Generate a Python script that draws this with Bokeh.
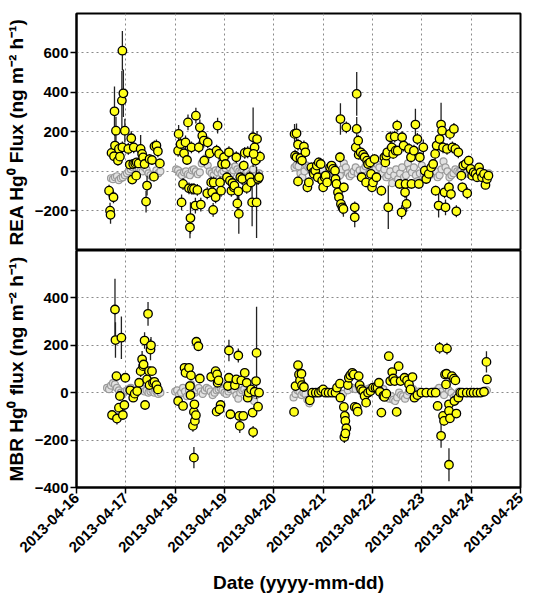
import math
import numpy as np
from bokeh.plotting import figure
from bokeh.layouts import column
from bokeh.models import FixedTicker, Range1d, ColumnDataSource
from bokeh.embed import file_html
from bokeh.resources import INLINE

# ---------------- data (days since 2013-04-16 00:00) ----------------
date_ticks = [0, 1, 2, 3, 4, 5, 6, 7, 8, 9]
date_labels = ["2013-04-16", "2013-04-17", "2013-04-18", "2013-04-19", "2013-04-20",
               "2013-04-21", "2013-04-22", "2013-04-23", "2013-04-24", "2013-04-25"]

rea_ticks = [-200, 0, 200, 400, 600]
mbr_ticks = [-400, -200, 0, 200, 400]

# REA flux (yellow)
rea_day = [0.66, 0.68, 0.69, 0.75, 0.71, 0.77, 0.78, 0.80, 0.76, 0.84, 0.86, 0.88, 0.93, 0.92, 0.95, 0.98, 0.93, 1.05, 1.08, 1.11,
           1.15, 1.19, 1.22, 1.26, 1.13, 1.21, 1.16, 1.30, 1.33, 1.35, 1.38, 1.41, 1.43, 1.48, 1.53, 1.57, 1.58, 1.62, 1.65, 1.69,
           2.07, 2.06, 2.11, 2.13, 2.16, 2.18, 2.21, 2.24, 2.26, 2.28, 2.30, 2.31, 2.33, 2.34, 2.38, 2.41, 2.45, 2.42, 2.48, 2.52,
           2.50, 2.55, 2.58, 2.59, 2.65, 2.66, 2.70, 2.73, 2.75, 2.77, 2.78, 2.82, 2.84, 2.86, 2.89, 2.91, 2.93, 2.95, 2.99, 3.02,
           3.05, 3.09, 3.11, 3.14, 3.16, 3.19, 3.20, 3.24, 3.26, 3.29, 3.28, 3.32, 3.36, 3.39, 3.41, 3.45, 3.47, 3.51, 3.54, 3.56,
           3.58, 3.61, 3.63, 3.65, 3.66, 3.68, 3.70, 3.72, 3.59,
           4.42, 4.46, 4.43, 4.46, 4.49, 4.49, 4.54, 4.57, 4.61, 4.64, 4.68, 4.71, 4.76, 4.80, 4.81, 4.84, 4.87, 4.89, 4.91, 4.95,
           4.98, 5.00, 5.03, 5.05, 5.08, 5.14, 5.17, 5.20, 5.24, 5.25, 5.27, 5.30, 5.32, 5.34, 5.35, 5.36, 5.39, 5.41, 5.42, 5.47,
           5.64, 5.64, 5.68, 5.68, 5.66, 5.71, 5.72, 5.76, 5.78, 5.81, 5.84, 5.87, 5.89, 5.91, 5.95, 5.97, 5.99, 6.01, 6.04, 6.08,
           6.18,
           6.24, 6.26, 6.28, 6.30, 6.32, 6.36, 6.39, 6.42, 6.45, 6.47, 6.50, 6.51, 6.55, 6.59, 6.60, 6.63, 6.66, 6.69, 6.67, 6.74,
           6.78, 6.79, 6.84, 6.87, 6.91, 6.94, 6.96, 7.03, 7.06, 7.09, 7.14, 7.19, 7.23, 7.27, 7.28, 7.30, 7.34, 7.36, 7.39, 7.41,
           7.43, 7.46, 7.48, 7.51, 7.55, 7.57, 7.59, 7.62, 7.65, 7.68, 7.70, 7.74, 7.80, 7.82, 7.84, 7.89, 7.92, 7.95, 7.99, 8.02,
           8.05, 8.09, 8.12, 8.16, 8.19, 8.22, 8.26, 8.29, 8.32, 8.35]
rea_flux = [-98, -199, -220, -131, 93, 303, 130, 205, 76, 54, 113, 74, 609, 357, 394, 205, 121, 113, 34, 167,
            37, 40, 45, 40, -42, -22, 121, 113, 88, 70, 37, -153, -72, 62, 57, -27, 126, 130, 101, 40,
            189, 104, 138, -157, -64, 91, 146, 57, 247, -86, -283, -236, 121, -89, -89, -173, -94, 281, 121, -168,
            222, 180, 155, 54, -111, 146, 91, -56, -106, -195, -56, -131, 104, 231, 88, -56, -98, 37, 71, 37,
            -30, 96, -47, -98, -59, -81, -72, 71, -162, -215, -101, -30, -39, 29, 93, -84, 96, -30, -56, -157,
            172, 121, 54, -157, 163, -39, -30, 74, 88,
            189, 192, 79, 71, 135, -51, 67, 54, 125, 96, -81, -56, 20, -5, -13, 3, 29, -30, 45, 37,
            -47, -81, -30, -22, -56, 20, 29, 12, 3, -39, -64, -106, -131, 71, 264, -165, -182, -190, -81, 222,
            -182, -232, 391, 214, 121, 155, 84, 96, -30, 84, 71, -56, 54, 37, 45, -13, -81, -56, 62, -30,
            -98,
            71, 45, 79, 96, -182, 172, 121, 88, 175, 104, 231, 104, -64, -207, 172, 130, -106, -165, -64, 113,
            71, -64, 104, 236, 163, -64, 71, 121, 3, -39, -13, 20, 37, 88, -98, 130, -173, 163, 236, 205,
            121, -106, -182, 113, -81, 189, -115, 121, 214, 113, -202, 96, -22, -81, 29, 37, -111, 54, 12, -22,
            -5, -13, -30, 20, -5, -30, -13, -69, -39, -22]
rea_err = [30, 40, 45, 30, 25, 125, 60, 70, 25, 25, 30, 25, 100, 150, 120, 60, 30, 30, 20, 35,
           20, 20, 20, 20, 20, 20, 30, 70, 40, 25, 20, 55, 50, 25, 25, 25, 30, 30, 30, 25,
           45, 30, 30, 40, 30, 30, 35, 25, 40, 30, 55, 80, 30, 30, 30, 40, 30, 40, 30, 35,
           40, 35, 35, 25, 30, 30, 25, 30, 30, 35, 30, 30, 30, 40, 30, 30, 30, 25, 25, 25,
           25, 30, 30, 30, 30, 30, 30, 30, 50, 100, 40, 25, 30, 25, 30, 30, 30, 30, 30, 120,
           150, 30, 25, 180, 40, 30, 30, 30, 30,
           50, 50, 30, 30, 30, 25, 25, 25, 30, 30, 25, 25, 25, 25, 25, 25, 25, 25, 25, 25,
           25, 25, 25, 25, 25, 20, 20, 20, 20, 25, 25, 25, 30, 25, 80, 35, 35, 40, 25, 30,
           30, 50, 110, 60, 30, 30, 25, 25, 25, 25, 25, 25, 25, 25, 25, 25, 25, 25, 25, 25,
           25,
           25, 25, 25, 30, 110, 30, 30, 25, 30, 30, 30, 25, 25, 35, 30, 30, 30, 40, 25, 30,
           25, 25, 30, 80, 30, 25, 25, 40, 25, 25, 25, 25, 25, 30, 25, 30, 60, 30, 110, 40,
           30, 30, 40, 30, 30, 30, 30, 30, 30, 30, 30, 30, 25, 25, 25, 25, 30, 25, 20, 20,
           20, 20, 20, 20, 20, 20, 20, 20, 25, 20]

# REA modelled/reference flux (grey)
rea_grey_day = [0.70, 0.74, 0.78, 0.82, 0.86, 0.90, 0.94, 0.98, 1.02, 1.06, 1.10, 1.14, 1.18, 1.22, 1.26, 1.30, 1.34,
                1.38, 1.42, 1.46, 1.50, 1.54, 1.58, 1.62, 1.66, 1.70,
                2.02, 2.06, 2.10, 2.14, 2.18, 2.22, 2.26, 2.30, 2.34, 2.38, 2.42, 2.46, 2.50, 2.54, 2.58, 2.62,
                2.66, 2.70, 2.74, 2.78, 2.82, 2.86, 2.90, 2.94, 2.98, 3.02, 3.06, 3.10, 3.14, 3.18, 3.22, 3.26,
                3.30, 3.34, 3.38, 3.42, 3.46, 3.50, 3.54, 3.58, 3.62, 3.66, 3.70,
                4.42, 4.46, 4.50, 4.54, 4.58, 4.62, 4.66, 4.70, 4.74, 4.78, 4.82, 4.86, 4.90, 4.94, 4.98, 5.02,
                5.06, 5.10, 5.14, 5.18, 5.22, 5.26, 5.30, 5.34, 5.38, 5.42, 5.46, 5.50, 5.54, 5.58, 5.62, 5.66,
                5.70, 5.74, 5.78, 5.82, 5.86, 5.90, 5.94, 5.98, 6.02, 6.06, 6.10, 6.14,
                6.20, 6.24, 6.28, 6.32, 6.36, 6.40, 6.44, 6.48, 6.52, 6.56, 6.60, 6.64, 6.68, 6.72, 6.76, 6.80,
                6.84, 6.88, 6.92, 6.96, 7.00, 7.04, 7.08, 7.12, 7.16, 7.20, 7.24, 7.28, 7.32, 7.36, 7.40, 7.44,
                7.48, 7.52, 7.56, 7.60, 7.64, 7.68, 7.72, 7.76, 7.80, 7.84, 7.88, 7.92, 7.96, 8.00, 8.04, 8.08,
                8.12, 8.16, 8.20, 8.24, 8.28, 8.32, 8.36]
rea_grey_flux = [-35, -40, -30, -25, -45, -35, -30, -20, -10, 0, 10, 20, 25, 15, 10, 5, 0,
                 20, 10, -10, -20, -30, -15, 5, -10, 0,
                 10, 5, -10, -20, -5, 0, -15, -20, 5, 10, 0, -15, -5, 40, 55, 65,
                 30, 0, -10, -20, 5, -5, 10, -10, 0, 15, 30, 20, -10, 5, 25, 10,
                 0, -5, 10, -15, 0, -20, -10, 10, -25, -40, -10,
                 20, 30, 25, -10, -30, 0, 30, 20, 10, 0, -20, -10, 5, -5, 10, -20,
                 -25, -15, 0, 5, 20, -5, -30, -20, 10, 40, 20, -10, -25, -15, 0, 20,
                 -10, 5, -20, 10, 25, 40, 30, 0, -15, 10, 35, 20,
                 -10, 10, -30, -20, 0, -60, -20, 10, -40, -10, 20, -30, -20, 40, 10, -5,
                 20, -20, -50, -10, 30, -15, -25, 0, -20, 10, -10, 0, -30, -20, 10, 50,
                 20, 0, -30, -20, -10, 10, 0, -5, 5, -10, 0, -5, -15, -10, -5, 0,
                 -10, -5, -15, -10, -20, -15, -10]

# MBR flux (yellow)
mbr_day = [0.72, 0.78, 0.79, 0.81, 0.82, 0.86, 0.88, 0.91, 0.94, 0.97, 0.99, 1.09, 1.15, 1.18, 1.23, 1.27, 1.30, 1.33,
           1.35, 1.36, 1.38, 1.39, 1.43, 1.45, 1.47, 1.48, 1.50, 1.51, 1.53, 1.55, 1.58, 1.62, 1.65,
           2.06, 2.16, 2.19, 2.21, 2.28, 2.30, 2.31, 2.32, 2.36, 2.38, 2.39, 2.40, 2.42, 2.38, 2.43, 2.47,
           2.50, 2.73, 2.82, 2.85, 2.86, 2.88, 2.84, 2.92, 2.90, 3.07, 3.09, 3.09, 3.12, 3.21, 3.24, 3.28,
           3.30, 3.31, 3.34, 3.38, 3.41, 3.45, 3.47, 3.49, 3.54, 3.57, 3.58, 3.61, 3.64, 3.65, 3.68, 3.70,
           4.41, 4.44, 4.49, 4.51, 4.53, 4.56, 4.57, 4.61, 4.73, 4.78, 4.85, 4.91, 4.96, 5.00, 5.05, 5.11,
           5.18, 5.25, 5.28, 5.34, 5.35, 5.42, 5.44, 5.45, 5.47, 5.43, 5.45, 5.50, 5.52, 5.55, 5.59, 5.62,
           5.64, 5.68, 5.70, 5.72, 5.74, 5.77, 5.81, 5.84, 5.87, 5.91, 5.96, 6.01, 6.06, 6.10, 6.13, 6.15,
           6.18, 6.22, 6.24, 6.28, 6.33, 6.36, 6.40, 6.42, 6.45, 6.49, 6.53, 6.57, 6.65, 6.70, 6.74, 6.77,
           6.81, 6.85, 6.91, 6.99, 7.09, 7.20, 7.28, 7.32, 7.36, 7.39, 7.43, 7.45, 7.47, 7.49, 7.50, 7.51,
           7.55, 7.55, 7.55, 7.57, 7.61, 7.65, 7.68, 7.70, 7.66, 7.74, 7.78, 7.82, 7.91, 7.99, 8.05, 8.12,
           8.19, 8.26, 8.31, 8.32]
mbr_flux = [-94, 351, 222, 70, -109, -63, -14, 232, -94, -52, 63, 10, -21, -4, 7, 42, 91, 141,
            112, 119, 220, -52, 56, 333, 91, 32, 182, 200, 91, 42, 46, 32, 14,
            -35, -56, 105, 84, 105, 28, -10, 73, -140, -81, -49, -119, -95, -274, 215, 196,
            60, 67, 91, 77, 42, 52, -80, -52, -70, 28, 63, 178, -91, 31, 56, 157,
            -98, -140, 52, -98, 84, 42, -21, 0, 14, -84, -166, 4, 49, 168, -59, 0,
            -81, 28, 116, 77, 52, 80, 32, 24, -32, 0, 0, 0, 7, 14, 0, 0,
            0, 0, 21, 38, -21, -60, -98, -119, -150, -187, -172, 32, 63, 74, 84, 77,
            -60, -63, -80, 70, 32, 14, 7, -14, -42, 0, 7, 21, 21, 21, 42, 4,
            -84, -14, -18, -4, 154, 49, 87, 60, 49, -81, 112, 49, 63, 52, 35, 14,
            66, -21, -10, 0, 0, 0, 0, -56, 189, -182, -98, -119, 77, 35, 80, 186,
            -49, -304, -77, -108, 70, 59, 52, -88, -35, -21, 0, 0, 0, 0, 0, 0,
            0, 4, 130, 56]
mbr_err = [15, 130, 75, 15, 25, 15, 15, 90, 15, 15, 15, 15, 10, 10, 10, 15, 25, 35,
           25, 25, 35, 15, 20, 50, 15, 15, 45, 35, 15, 15, 15, 15, 10,
           15, 15, 20, 15, 20, 15, 15, 20, 25, 20, 15, 20, 20, 45, 15, 15,
           15, 15, 15, 15, 15, 15, 15, 15, 15, 15, 15, 45, 15, 15, 15, 30,
           15, 30, 15, 15, 15, 15, 15, 10, 10, 15, 25, 10, 15, 195, 15, 10,
           15, 15, 15, 15, 15, 15, 15, 10, 15, 5, 5, 5, 5, 5, 5, 5,
           5, 5, 10, 10, 10, 15, 15, 15, 20, 25, 20, 10, 15, 15, 15, 15,
           15, 15, 15, 15, 10, 10, 10, 10, 15, 5, 5, 10, 10, 10, 15, 10,
           15, 10, 10, 10, 15, 10, 15, 10, 10, 15, 15, 10, 10, 10, 10, 10,
           10, 10, 10, 5, 5, 5, 5, 15, 25, 50, 20, 20, 15, 15, 15, 25,
           15, 70, 15, 20, 15, 15, 15, 15, 15, 10, 5, 5, 5, 5, 5, 5,
           5, 5, 45, 15]

# MBR reference flux (grey)
mbr_grey_day = [0.62, 0.66, 0.70, 0.74, 0.78, 0.82, 0.86, 0.90, 0.94, 0.98, 1.02, 1.06, 1.10, 1.14, 1.18, 1.22, 1.26,
                1.30, 1.34, 1.38, 1.42, 1.46, 1.50, 1.54, 1.58, 1.62, 1.66, 1.70,
                2.00, 2.04, 2.08, 2.12, 2.16, 2.20, 2.24, 2.28, 2.32, 2.36, 2.40, 2.44, 2.48, 2.52, 2.56, 2.60,
                2.64, 2.68, 2.72, 2.76, 2.80, 2.84, 2.88, 2.92, 2.96, 3.00, 3.04, 3.08, 3.12, 3.16, 3.20, 3.24,
                3.28, 3.32, 3.36, 3.40, 3.44, 3.48, 3.52, 3.56, 3.60, 3.64, 3.68,
                4.40, 4.44, 4.48, 4.52, 4.56, 4.60, 4.64, 4.68, 4.72, 4.76, 4.80, 4.90, 5.00, 5.10, 5.20, 5.30,
                5.40, 5.50, 5.60, 5.66, 5.72, 5.78, 5.84, 5.90, 5.96, 6.02, 6.08, 6.14,
                6.18, 6.22, 6.26, 6.30, 6.34, 6.38, 6.42, 6.46, 6.50, 6.54, 6.58, 6.62, 6.66, 6.70, 6.74, 6.78,
                6.82, 6.86, 6.90, 6.94, 6.98, 7.05, 7.15, 7.25, 7.30, 7.35, 7.40, 7.45, 7.50, 7.55, 7.60, 7.65,
                7.70, 7.75, 7.85, 7.95, 8.05, 8.15, 8.25, 8.32]
mbr_grey_flux = [20, 15, 30, 40, 35, 20, 10, 0, -5, 5, 10, 15, 20, 0, 5, 10, 15,
                 20, 15, 5, 10, 0, 5, 10, 0, 5, -5, 0,
                 5, 10, -10, 0, 20, 5, -15, 10, 35, 15, 0, 10, 20, 5, -5, 10,
                 20, 15, 5, -10, 0, 10, 15, 20, 10, 0, -5, 5, 15, 20, 10, -10,
                 -25, 0, 10, 15, 0, -10, 5, -20, -35, -10, 0,
                 -20, -5, 10, 5, -10, 0, -5, -30, -45, -10, 0, 0, 0, 0, 0, -10,
                 -5, 10, 20, 15, 25, 5, 10, 15, 20, 25, 30, 20,
                 10, 15, -10, -20, -25, -15, -30, -35, -20, 0, -10, -15, -25, -10, 5, 10,
                 15, 5, 0, 5, 0, 0, 0, 5, 10, 20, 5, -10, 20, 10, 0, -20,
                 -10, 5, 0, 0, 0, 0, 5, 10]

# ---------------- styling helpers ----------------
FONT = "Liberation Sans"
YELLOW = "#ffff1a"
GRID = "#8a8a8a"


def make_panel(height, border_bottom, border_top, y_lo, y_hi, yticks, ylabel):
    p = figure(width=539, height=height, x_range=Range1d(0, 9), y_range=Range1d(y_lo, y_hi),
               output_backend="svg", toolbar_location=None,
               min_border_left=76, min_border_right=19,
               min_border_top=border_top, min_border_bottom=border_bottom)
    p.outline_line_color = "black"
    p.outline_line_width = 2
    p.background_fill_color = "white"
    p.border_fill_color = "white"
    p.yaxis.ticker = FixedTicker(ticks=yticks)
    p.xaxis.ticker = FixedTicker(ticks=date_ticks)
    p.xgrid.ticker = FixedTicker(ticks=date_ticks)
    p.ygrid.ticker = FixedTicker(ticks=yticks)
    for g in (p.xgrid, p.ygrid):
        g.grid_line_color = GRID
        g.grid_line_dash = "2 3"
        g.grid_line_width = 1
    for ax in (p.xaxis, p.yaxis):
        ax.axis_line_color = "black"
        ax.axis_line_width = 2
        ax.major_tick_out = 6
        ax.major_tick_in = 0
        ax.major_tick_line_width = 1.5
        ax.major_tick_line_color = "black"
        ax.minor_tick_line_color = None
        ax.major_label_text_font = FONT
        ax.major_label_text_font_style = "bold"
        ax.major_label_text_font_size = "15px"
        ax.major_label_text_color = "black"
        ax.axis_label_text_font = FONT
        ax.axis_label_text_font_style = "bold"
        ax.axis_label_text_font_size = "19px"
        ax.axis_label_text_color = "black"
    p.yaxis.axis_label = ylabel
    p.yaxis.major_label_standoff = 2
    p.yaxis.axis_label_standoff = 5
    return p


def add_series(p, day, flux, err, gday, gflux):
    gsrc = ColumnDataSource(dict(x=gday, y=gflux, lo=[v - 8 for v in gflux], hi=[v + 8 for v in gflux]))
    p.segment(x0="x", y0="lo", x1="x", y1="hi", source=gsrc, line_color="#a8a8a8", line_width=1)
    p.scatter(x="x", y="y", source=gsrc, size=7, fill_color="#e2e2e2", line_color="#9a9a9a", line_width=1.2)
    src = ColumnDataSource(dict(x=day, y=flux,
                                lo=[v - e for v, e in zip(flux, err)],
                                hi=[v + e for v, e in zip(flux, err)]))
    p.segment(x0="x", y0="lo", x1="x", y1="hi", source=src, line_color="#222222", line_width=1.3)
    p.scatter(x="x", y="y", source=src, size=8.5, fill_color=YELLOW, line_color="black", line_width=1.3)


top = make_panel(250, 0, 13, -400, 797, rea_ticks, "REA Hg\u2070 Flux (ng m\u207b\u00b2 h\u207b\u00b9)")
top.xaxis.visible = False
add_series(top, rea_day, rea_flux, rea_err, rea_grey_day, rea_grey_flux)

bot = make_panel(345, 108, 0, -400, 600, mbr_ticks, "MBR Hg\u2070 flux (ng m\u207b\u00b2 h\u207b\u00b9)")
bot.xaxis.major_label_overrides = {t: lab for t, lab in zip(date_ticks, date_labels)}
bot.xaxis.major_label_orientation = math.pi / 4
bot.xaxis.major_label_standoff = 2
bot.xaxis.axis_label = "Date (yyyy-mm-dd)"
bot.xaxis.axis_label_standoff = 12
add_series(bot, mbr_day, mbr_flux, mbr_err, mbr_grey_day, mbr_grey_flux)

layout = column(top, bot, spacing=0)
open("out.html", "w").write(file_html(layout, INLINE))
